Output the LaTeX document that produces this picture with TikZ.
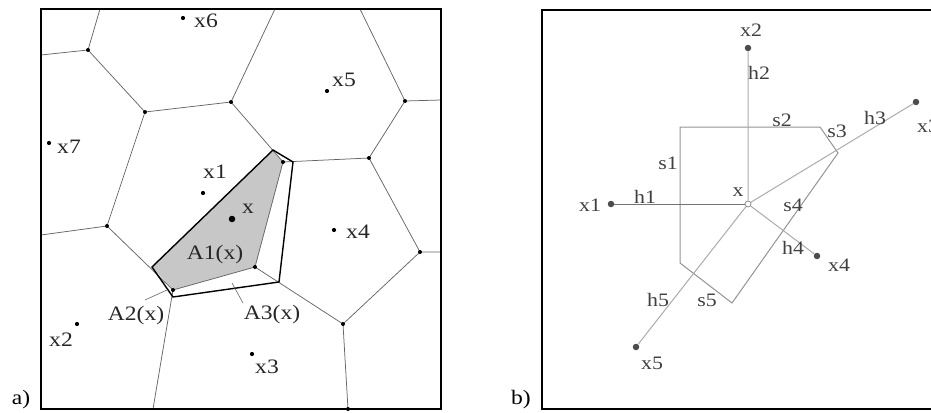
\documentclass[tikz,border=0pt]{standalone}
\usepackage{fontspec}
\setmainfont[FakeStretch=1.15]{Liberation Serif}
\begin{document}
\begin{tikzpicture}[x=1pt,y=-1pt,
  frame/.style={line width=1.7pt,black},
  vedge/.style={line width=0.75pt,black!60},
  bound/.style={line width=1.4pt,black},
  vdot/.style={circle,fill=black,inner sep=0pt,minimum size=4pt},
  site/.style={circle,fill=black,inner sep=0pt,minimum size=4.2pt},
  bigdot/.style={circle,fill=black,inner sep=0pt,minimum size=6.5pt},
  lbl/.style={inner sep=0pt,font=\fontsize{20.5}{20.5}\selectfont,text=black!85},
  rlbl/.style={inner sep=0pt,font=\fontsize{19}{19}\selectfont,text=black!75},
  hline/.style={line width=1pt,black!33},
  sline/.style={line width=1pt,black!42},
  rdot/.style={circle,fill=black!70,inner sep=0pt,minimum size=6.5pt},
  leader/.style={line width=0.6pt,black!60}]
\useasboundingbox (0,0) rectangle (931,412);
\clip (0,0) rectangle (931,412);
% ---------- panel a ----------
\coordinate (T1) at (100,9);  \coordinate (L1) at (41,55);
\coordinate (V1) at (88,50);  \coordinate (V2) at (145,112);
\coordinate (V3) at (231,102); \coordinate (T2) at (275,9);
\coordinate (V6) at (405,101); \coordinate (T3) at (360,9);
\coordinate (R1) at (441,100); \coordinate (V7) at (369,158);
\coordinate (V8) at (420,252); \coordinate (R2) at (441,252);
\coordinate (V9) at (343,324); \coordinate (B1) at (348,409);
\coordinate (V4) at (107,226); \coordinate (L2) at (41,235);
\coordinate (V5) at (173,290); \coordinate (B2) at (153,409);
\coordinate (P1) at (152,267); \coordinate (P2) at (273,150);
\coordinate (P3) at (283,162); \coordinate (P4) at (255,267);
\coordinate (Q1) at (293,162); \coordinate (Q2) at (279,282);
\coordinate (Q3) at (173,297);
\fill[black!22] (P1) -- (P2) -- (P3) -- (P4) -- (V5) -- cycle;
\draw[vedge] (T1) -- (V1) (L1) -- (V1) (V1) -- (V2) -- (V3) -- (T2)
  (T3) -- (V6) -- (R1) (V6) -- (V7) -- (V8) -- (R2) (V8) -- (V9) -- (B1)
  (V2) -- (V4) -- (L2) (V4) -- (V5) -- (B2)
  (V3) -- (P3) -- (V7) (P3) -- (P4) -- (V9) (P4) -- (V5);
\draw[bound] (P1) -- (P2) -- (Q1) -- (Q2) -- (Q3) -- cycle;
\foreach \p in {V1,V2,V3,V4,V5,V6,V7,V8,V9,P3,P4,B1}
  \node[vdot] at (\p) {};
\coordinate (A2a) at (145,300); \coordinate (A2b) at (167,290);
\coordinate (A3a) at (243,303); \coordinate (A3b) at (232,283);
\draw[leader] (A2a) -- (A2b) (A3a) -- (A3b);
\node[site] (s6) at (183,18) {};  \node[lbl] (l6) at (206,21) {x6};
\node[site] (s7) at (49,143) {};  \node[lbl] (l7) at (69,147) {x7};
\node[site] (s1) at (203,193) {}; \node[lbl] (l1) at (215,172) {x1};
\node[site] (s5) at (327,91) {};  \node[lbl] (l5) at (344,80) {x5};
\node[bigdot] (sx) at (232,219) {}; \node[lbl] (lx) at (248,209) {x};
\node[lbl] (la1) at (215,255) {A1(x)};
\node[site] (s4) at (334,230) {}; \node[lbl] (l4) at (358,232) {x4};
\node[site] (s3) at (252,354) {}; \node[lbl] (l3) at (267,367) {x3};
\node[site] (s2) at (77,324) {};  \node[lbl] (l2) at (61,340) {x2};
\node[lbl] (la2) at (136,316) {A2(x)};
\node[lbl] (la3) at (272,315) {A3(x)};
\draw[frame] (41,9) rectangle (441,409);
\node[lbl,text=black] (pa) at (21,400) {a)};
% ---------- panel b ----------
\coordinate (S1) at (680,127); \coordinate (S2) at (820,127);
\coordinate (S3) at (838,153); \coordinate (S4) at (732,303);
\coordinate (S5) at (680,263);
\node[rdot] (X1) at (611,204) {};
\node[rdot] (X2) at (748,48) {};
\node[rdot] (X3) at (916,102) {};
\node[rdot] (X4) at (817,256) {};
\node[rdot] (X5) at (636,347) {};
\draw[sline] (S1) -- (S2) -- (S3) -- (S4) -- (S5) -- cycle;
\node[circle,draw=black!50,fill=white,line width=0.7pt,inner sep=0pt,minimum size=6pt] (X) at (748,204) {};
\draw[hline,black!55] (X) -- (X1);
\draw[hline] (X) -- (X2) (X) -- (X3) (X) -- (X4) (X) -- (X5);
\node[rlbl] (lX) at (738,192) {x};
\node[rlbl] (lX1) at (590,205) {x1};
\node[rlbl] (lh1) at (645,197) {h1};
\node[rlbl] (ls1) at (668,163) {s1};
\node[rlbl] (ls2) at (782,120) {s2};
\node[rlbl] (ls3) at (837,131) {s3};
\node[rlbl] (ls4) at (793,205) {s4};
\node[rlbl] (ls5) at (707,300) {s5};
\node[rlbl] (lh2) at (759,73) {h2};
\node[rlbl] (lX2) at (751,30) {x2};
\node[rlbl] (lh3) at (875,118) {h3};
\node[rlbl] (lX3) at (928,126) {x3};
\node[rlbl] (lh4) at (793,248) {h4};
\node[rlbl] (lX4) at (839,265) {x4};
\node[rlbl] (lh5) at (658,300) {h5};
\node[rlbl] (lX5) at (652,363) {x5};
\draw[frame] (542,10) rectangle (945,409);
\node[lbl,text=black] (pb) at (521,400) {b)};
\end{tikzpicture}
\end{document}
